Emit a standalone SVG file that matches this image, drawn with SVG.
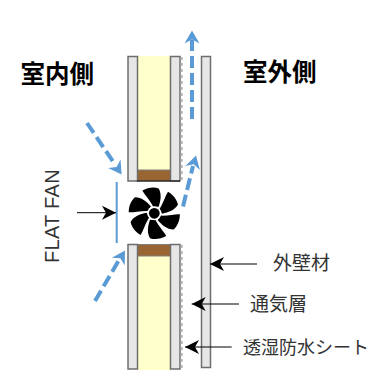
<svg xmlns="http://www.w3.org/2000/svg" width="369" height="371" viewBox="0 0 369 371">
<defs>
<style>
.panel{fill:#e6e6e6;stroke:#6e6e6e;stroke-width:1.500}
.ins{fill:#ffffcc}
.wood{fill:#996633;stroke:#7f7f7f;stroke-width:1}
.mem{fill:none;stroke:#b5b5b5;stroke-width:2;stroke-dasharray:3 3}
.air{fill:none;stroke:#5b9bd5;stroke-width:4;stroke-dasharray:12 5}
.lead{fill:none;stroke:#000;stroke-width:1;marker-end:url(#blk)}
.jp{font-family:"Noto Sans CJK JP",sans-serif;font-size:19px;fill:#333}
.hd{font-family:"Noto Sans CJK JP",sans-serif;font-size:24.500px;font-weight:700;fill:#000}
.lat{font-family:"Liberation Sans",sans-serif;font-size:20px;letter-spacing:.3px;fill:#333}
</style>
<marker id="blk" markerUnits="userSpaceOnUse" markerWidth="16" markerHeight="16" refX="14" refY="8" orient="auto">
<path d="M14,8 L0,1 L4,8 L0,15 Z" fill="#000"/>
</marker>
<path id="tip" d="M-13,-7.500 L0,0 L-13,7.500 L-9,0 Z" fill="#5b9bd5"/>
<path id="blade" d="M-1,-6 C-4,-12 -9,-17 -11,-21 C-6,-24 0,-24.500 4,-23 C7,-18 6,-12 4,-6 Z" fill="#000"/>
</defs>
<rect width="369" height="371" fill="#fff"/>
<g id="wall-upper">
<rect class="ins" x="137" y="56" width="33.500" height="115"/>
<rect class="wood" x="137" y="170" width="33.500" height="11"/>
<rect class="panel" x="128" y="56.500" width="9.500" height="124.500"/>
<rect class="panel" x="170.500" y="56.500" width="9.500" height="124.500"/>
<line x1="137" y1="181" x2="180" y2="181" stroke="#000" stroke-width="1"/>
<line class="mem" x1="181.700" y1="57" x2="181.700" y2="183"/>
</g>
<g id="wall-lower">
<rect class="ins" x="137" y="255" width="33.500" height="115"/>
<rect class="wood" x="137" y="244.500" width="33.500" height="11.500"/>
<rect class="panel" x="128" y="244.500" width="9.500" height="124.500"/>
<rect class="panel" x="170.500" y="244.500" width="9.500" height="124.500"/>
<line class="mem" x1="181.700" y1="245" x2="181.700" y2="370"/>
</g>
<g id="outer-wall">
<rect class="panel" x="201.500" y="56.500" width="9" height="311"/>
</g>
<g id="fan">
<line x1="116.700" y1="182" x2="116.700" y2="243" stroke="#5b9bd5" stroke-width="2"/>
<g transform="translate(154.300 213.300) scale(1.080)">
<use href="#blade"/>
<use href="#blade" transform="rotate(60)"/>
<use href="#blade" transform="rotate(120)"/>
<use href="#blade" transform="rotate(180)"/>
<use href="#blade" transform="rotate(240)"/>
<use href="#blade" transform="rotate(300)"/>
<circle r="6.500" fill="#fff"/>
<circle r="5" fill="#000"/>
</g>
</g>
<g id="connectors">
<line class="air" x1="87" y1="123" x2="115" y2="164.500"/>
<use href="#tip" transform="translate(121.600 174.500) rotate(56)"/>
<line class="air" x1="95" y1="301" x2="119" y2="260"/>
<use href="#tip" transform="translate(125 250.500) rotate(-59)"/>
<line class="air" x1="192" y1="119" x2="192" y2="40"/>
<use href="#tip" transform="translate(192 30.500) rotate(-90)"/>
<line class="air" x1="183" y1="206.500" x2="193" y2="166"/>
<use href="#tip" transform="translate(196 155.500) rotate(-75)"/>
<line class="lead" x1="77" y1="212.700" x2="116" y2="212.700"/>
<line class="lead" x1="257" y1="264" x2="210" y2="264"/>
<line class="lead" x1="239" y1="304" x2="191.700" y2="304"/>
<line class="lead" x1="231.700" y1="347" x2="185" y2="347"/>
</g>
<g id="labels">
<text class="hd" x="20.500" y="83">室内側</text>
<text class="hd" x="243" y="81">室外側</text>
<text class="lat" transform="translate(59 263) rotate(-90)">FLAT FAN</text>
<text class="jp" x="273" y="270">外壁材</text>
<text class="jp" x="250" y="311">通気層</text>
<text class="jp" x="243" y="354" style="font-size:18px">透湿防水シート</text>
</g>
</svg>
